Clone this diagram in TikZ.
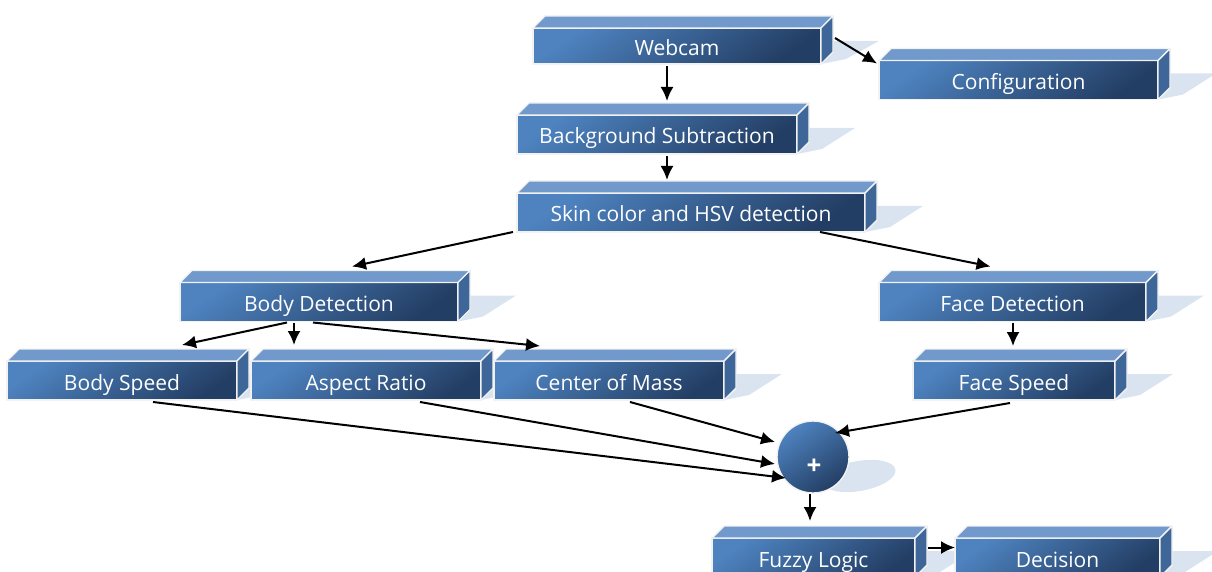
\documentclass[tikz,border=0pt]{standalone}
\usepackage{fontspec}
\setmainfont{Open Sans}
\usetikzlibrary{calc,arrows.meta}
\pgfdeclarelayer{bg}
\pgfsetlayers{bg,main}
\definecolor{cfl}{HTML}{4E83C0}
\definecolor{cfd}{HTML}{233E64}
\definecolor{ctop}{HTML}{7199CB}
\definecolor{cside}{HTML}{3E6699}
\definecolor{cshadow}{HTML}{DAE4F0}
\definecolor{cedge}{HTML}{F2F2F2}
\tikzset{
  x=1pt, y=-1pt,
  boxfront/.style={rectangle, inner sep=0pt, outer sep=0pt, draw=cedge, line width=1.4pt,
    top color=cfl, bottom color=cfd, shading angle=35, text=white,
    font=\fontsize{21}{24}\selectfont, text height=19pt, text depth=0pt},
  topface/.style={fill=ctop, draw=cedge, line width=1.4pt, line join=round},
  sideface/.style={fill=cside, draw=cedge, line width=1.4pt, line join=round},
  shadowfill/.style={fill=cshadow},
  circnode/.style={circle, minimum size=72pt, inner sep=0pt, outer sep=0pt, draw=cedge, line width=1.4pt,
    top color=cfl, bottom color=cfd, shading angle=35},
  plustext/.style={text=white, font=\fontsize{26}{26}\selectfont\bfseries},
  arr/.style={-{Latex[length=14pt,width=13pt]}, line width=2pt, black},
}
\newcommand\cubebox[6]{%
  \node[boxfront, minimum width=#4pt, minimum height=#5pt] (#1) at (#2,#3) {#6};
  \begin{pgfonlayer}{bg}
    \fill[shadowfill] ($(#1.north east)+(0,13)$) -- ++(58,0) -- ($(#1.south east)+(25,-5)$) -- (#1.south east) -- cycle;
  \end{pgfonlayer}
  \filldraw[topface] (#1.north west) -- ++(12,-12) -- ($(#1.north east)+(12,-12)$) -- (#1.north east) -- cycle;
  \filldraw[sideface] (#1.north east) -- ++(12,-12) -- ($(#1.south east)+(12,-12)$) -- (#1.south east) -- cycle;
}
\begin{document}
\begin{tikzpicture}
\useasboundingbox (0,0) rectangle (1212,572);
\cubebox{webcam}{677}{46}{288}{36}{Webcam}
\cubebox{config}{1018.5}{80}{279}{39}{Configuration}
\cubebox{bgsub}{657}{134.5}{280}{39}{Background Subtraction}
\cubebox{skin}{691}{212.5}{348}{39}{Skin color and HSV detection}
\cubebox{body}{319}{302}{278}{39}{Body Detection}
\cubebox{face}{1012.5}{302}{267}{39}{Face Detection}
\cubebox{bspeed}{122}{380.5}{230}{39}{Body Speed}
\cubebox{aspect}{366}{380.5}{230}{39}{Aspect Ratio}
\cubebox{com}{609}{380.5}{230}{39}{Center of Mass}
\cubebox{fspeed}{1014}{380.5}{202}{39}{Face Speed}
\cubebox{fuzzy}{813.5}{557.5}{203}{39}{Fuzzy Logic}
\cubebox{decision}{1057.5}{557.5}{205}{39}{Decision}
\begin{pgfonlayer}{bg}
  \fill[shadowfill, rotate around={10:(859,476)}] (859,476) ellipse [x radius=37, y radius=15];
\end{pgfonlayer}
\node[circnode] (plus) at (813,457) {};
\node[plustext] (plussign) at ($(plus)+(1,10)$) {+};
% connectors
\draw[arr] ($(webcam.south)+(-10,2)$) -- ($(bgsub.north)+(10,-14)$);
\draw[arr] ($(webcam.east)+(14,-8)$) -- ($(config.north west)+(-2,3)$);
\draw[arr] ($(bgsub.south)+(10,2)$) -- ($(skin.north)+(-24,-13)$);
\draw[arr] ($(skin.south west)+(-4,0)$) -- ($(body.north)+(33,-16)$);
\draw[arr] ($(skin.south east)+(-45,0)$) -- ($(face.north)+(-22,-16)$);
\draw[arr] ($(body.south)+(-32,1)$) -- ($(bspeed.north)+(60,-16)$);
\draw[arr] ($(body.south)+(-25,1)$) -- ($(aspect.north)+(-72,-16)$);
\draw[arr] ($(body.south)+(-6,1)$) -- ($(com.north)+(-69,-15)$);
\draw[arr] ($(face.south)+(0.5,1)$) -- ($(fspeed.north)+(-1,-15)$);
\draw[arr] ($(bspeed.south)+(31,2)$) -- ($(plus)+(-27,21)$);
\draw[arr] ($(aspect.south)+(54,2)$) -- ($(plus)+(-38,7)$);
\draw[arr] ($(com.south)+(21,2)$) -- ($(plus)+(-38,-15)$);
\draw[arr] ($(fspeed.south)+(-4,3)$) -- ($(plus)+(22,-24)$);
\draw[arr] ($(plus.south)+(-3,1)$) -- ($(fuzzy.north)+(-3.5,-17)$);
\draw[arr] ($(fuzzy.east)+(13,-10)$) -- ($(decision.west)+(0,-10)$);
\end{tikzpicture}
\end{document}
